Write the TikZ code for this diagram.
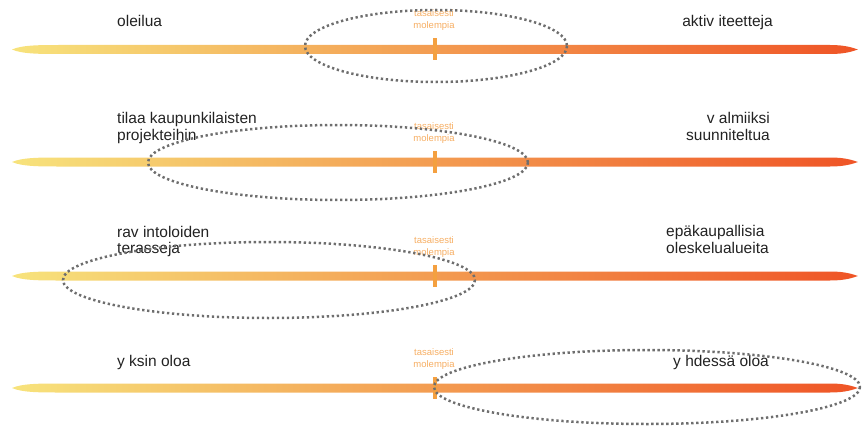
\documentclass[tikz,border=0pt]{standalone}
\usepackage{fontspec}
\setmainfont{Liberation Sans}
\usepackage{xcolor}
\definecolor{baryellow}{HTML}{F7E37C}
\definecolor{barorange}{HTML}{F4A243}
\definecolor{barred}{HTML}{EF5426}
\definecolor{tickorange}{HTML}{F4A040}
\definecolor{notecolor}{HTML}{F6AE63}
\definecolor{labelgray}{HTML}{222222}
\definecolor{ringgray}{HTML}{6E6E6E}
\tikzset{
	label/.style={inner sep=0pt, text=labelgray, font=\fontsize{15.5}{17.5}\selectfont},
	note/.style={inner sep=0pt, text=notecolor, align=center, font=\fontsize{9.5}{12}\selectfont},
	ring/.style={draw=ringgray, line width=2.5pt, dash pattern=on 2.3pt off 2.7pt},
	midtick/.style={draw=tickorange, line width=3.5pt}
}

\begin{document}
\begin{tikzpicture}[x=1pt, y=-1pt]
		\useasboundingbox (0,0) rectangle (862,428);
		% Bars
		\foreach \y in {49.5,162,276,388} {
			\shade[left color=baryellow, middle color=barorange, right color=barred]
				(12,\y) .. controls (22,\y-4.5) and (40,\y-4.5) .. (60,\y-4.5) -- (830,\y-4.5)
				.. controls (845,\y-4.5) and (852,\y-2) .. (858,\y)
				.. controls (852,\y+2) and (845,\y+4.5) .. (830,\y+4.5) -- (60,\y+4.5)
				.. controls (40,\y+4.5) and (22,\y+4.5) .. (12,\y) -- cycle;
			\draw[midtick] (435,\y-11) -- (435,\y+11);
			\node[note, anchor=base] at (434,\y-21) {molempia};
			\node[note, anchor=base] at (434,\y-33) {tasaisesti};
		}
		% Row 1
		\node[label, anchor=base west] (oleilua) at (117,27) {oleilua};
		\node[label, anchor=base east] (aktiv) at (773,27) {aktiv iteetteja};
		% Row 2
		\node[label, anchor=base west] (tilaa) at (117,123) {tilaa kaupunkilaisten};
		\node[label, anchor=base west] (projekti) at (117,140) {projekteihin};
		\node[label, anchor=base east] (valmiiksi) at (770,123) {v almiiksi};
		\node[label, anchor=base east] (suunn) at (770,140) {suunniteltua};
		% Row 3
		\node[label, anchor=base west] (ravinto) at (117,237) {rav intoloiden};
		\node[label, anchor=base west] (terassi) at (117,253) {terasseja};
		\node[label, anchor=base west] (epakaup) at (666,236) {epäkaupallisia};
		\node[label, anchor=base west] (oleskelu) at (666,253) {oleskelualueita};
		% Row 4
		\node[label, anchor=base west] (yksin) at (117,366) {y ksin oloa};
		\node[label, anchor=base west] (yhdessa) at (673,366) {y hdessä oloa};
		% Rings
		\draw[ring] (436,46) ellipse [x radius=131, y radius=36];
		\draw[ring] (338,162.5) ellipse [x radius=190, y radius=37.5];
		\draw[ring] (269,280) ellipse [x radius=206, y radius=38];
		\draw[ring] (647,387) ellipse [x radius=213, y radius=37];
	\end{tikzpicture}
\end{document}
